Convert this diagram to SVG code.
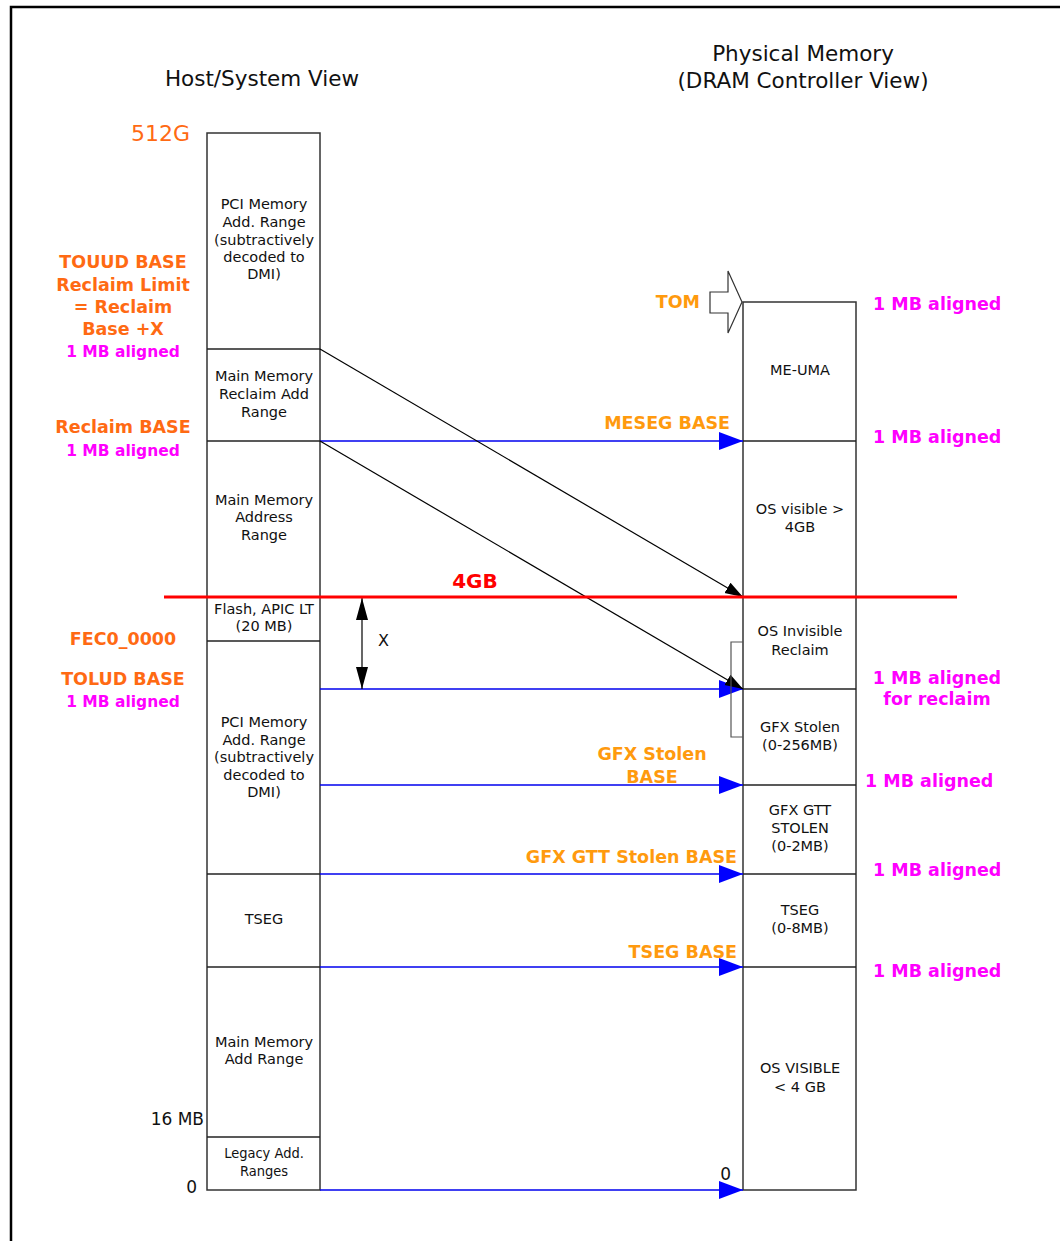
<svg xmlns="http://www.w3.org/2000/svg" width="1060" height="1241" viewBox="0 0 1060 1241">
<style>
.bx{fill:#fff;stroke:#333;stroke-width:1.5}
.dv{stroke:#222;stroke-width:1.5}
.t{font-family:"DejaVu Sans",Verdana,sans-serif;font-size:14.5px;fill:#111;text-anchor:middle}
.h{font-family:"DejaVu Sans",Verdana,sans-serif;font-size:21.5px;fill:#111;text-anchor:middle}
.ol{font-family:"DejaVu Sans",Verdana,sans-serif;font-size:17.5px;font-weight:bold;fill:#FF6A13;text-anchor:middle}
.or{font-family:"DejaVu Sans",Verdana,sans-serif;font-size:17.5px;font-weight:bold;fill:#FF9A0E}
.mg{font-family:"DejaVu Sans",Verdana,sans-serif;font-size:17.5px;font-weight:bold;fill:#FF00FF}
.ml{font-family:"DejaVu Sans",Verdana,sans-serif;font-size:15.5px;font-weight:bold;fill:#FF00FF;text-anchor:middle}
.bl{stroke:#0000EE;stroke-width:1.3;fill:none}
.dg{stroke:#000;stroke-width:1.2;fill:none}
.n{font-family:"DejaVu Sans",sans-serif;font-size:17px;fill:#111}
</style>
<defs>
<marker id="ba" markerUnits="userSpaceOnUse" markerWidth="26" markerHeight="20" refX="24" refY="9" orient="auto"><path d="M0,0 L24,9 L0,18 Z" fill="#0000FF"/></marker>
<marker id="ka" markerUnits="userSpaceOnUse" markerWidth="20" markerHeight="14" refX="18" refY="6" orient="auto"><path d="M0,0 L18,6 L0,12 Z" fill="#000"/></marker>
<marker id="xa" markerUnits="userSpaceOnUse" markerWidth="24" markerHeight="14" refX="22" refY="6" orient="auto"><path d="M0,0 L22,6 L0,12 Z" fill="#000"/></marker>
</defs>
<rect width="1060" height="1241" fill="#fff"/>
<path d="M11,1241 V7 H1060" fill="none" stroke="#000" stroke-width="2.5"/>

<text class="h" x="262" y="86">Host/System View</text>
<text class="h" x="803" y="61">Physical Memory</text>
<text class="h" x="803" y="88">(DRAM Controller View)</text>

<g id="host">
<rect class="bx" x="207" y="133" width="113" height="1057"/>
<line class="dv" x1="207" y1="349" x2="320" y2="349"/>
<line class="dv" x1="207" y1="441" x2="320" y2="441"/>
<line class="dv" x1="207" y1="641" x2="320" y2="641"/>
<line class="dv" x1="207" y1="874" x2="320" y2="874"/>
<line class="dv" x1="207" y1="967" x2="320" y2="967"/>
<line class="dv" x1="207" y1="1137" x2="320" y2="1137"/>
</g>
<g id="host-pci-high"><text class="t" x="264" y="209">PCI Memory</text><text class="t" x="264" y="227">Add. Range</text><text class="t" x="264" y="245">(subtractively</text><text class="t" x="264" y="262">decoded to</text><text class="t" x="264" y="279">DMI)</text></g>
<g id="host-reclaim"><text class="t" x="264" y="381">Main Memory</text><text class="t" x="264" y="399">Reclaim Add</text><text class="t" x="264" y="417">Range</text></g>
<g id="host-main"><text class="t" x="264" y="505">Main Memory</text><text class="t" x="264" y="522">Address</text><text class="t" x="264" y="540">Range</text></g>
<g id="host-flash"><text class="t" x="264" y="614">Flash, APIC LT</text><text class="t" x="264" y="631">(20 MB)</text></g>
<g id="host-pci-low"><text class="t" x="264" y="727">PCI Memory</text><text class="t" x="264" y="745">Add. Range</text><text class="t" x="264" y="762">(subtractively</text><text class="t" x="264" y="780">decoded to</text><text class="t" x="264" y="797">DMI)</text></g>
<g id="host-tseg"><text class="t" x="264" y="924">TSEG</text></g>
<g id="host-mainlow"><text class="t" x="264" y="1047">Main Memory</text><text class="t" x="264" y="1064">Add Range</text></g>
<g id="host-legacy"><text class="t" x="264" y="1158" style="font-family:'DejaVu Sans Condensed','DejaVu Sans',sans-serif">Legacy Add.</text><text class="t" x="264" y="1176" style="font-family:'DejaVu Sans Condensed','DejaVu Sans',sans-serif">Ranges</text></g>

<g id="phys">
<rect class="bx" x="743" y="302" width="113" height="888"/>
<line class="dv" x1="743" y1="441" x2="856" y2="441"/>
<line class="dv" x1="743" y1="689" x2="856" y2="689"/>
<line class="dv" x1="743" y1="785" x2="856" y2="785"/>
<line class="dv" x1="743" y1="874" x2="856" y2="874"/>
<line class="dv" x1="743" y1="967" x2="856" y2="967"/>
</g>
<g id="phys-meuma"><text class="t" x="800" y="375">ME-UMA</text></g>
<g id="phys-osvis"><text class="t" x="800" y="514">OS visible &gt;</text><text class="t" x="800" y="532">4GB</text></g>
<g id="phys-osinv"><text class="t" x="800" y="636">OS Invisible</text><text class="t" x="800" y="655">Reclaim</text></g>
<g id="phys-gfx"><text class="t" x="800" y="732">GFX Stolen</text><text class="t" x="800" y="750">(0-256MB)</text></g>
<g id="phys-gtt"><text class="t" x="800" y="815">GFX GTT</text><text class="t" x="800" y="833">STOLEN</text><text class="t" x="800" y="851">(0-2MB)</text></g>
<g id="phys-tseg"><text class="t" x="800" y="915">TSEG</text><text class="t" x="800" y="933">(0-8MB)</text></g>
<g id="phys-oslow"><text class="t" x="800" y="1073">OS VISIBLE</text><text class="t" x="800" y="1092">&lt; 4 GB</text></g>

<g id="connectors">
<line class="bl" x1="320" y1="441" x2="743" y2="441" marker-end="url(#ba)"/>
<line class="bl" x1="320" y1="689" x2="743" y2="689" marker-end="url(#ba)"/>
<line class="bl" x1="320" y1="785" x2="743" y2="785" marker-end="url(#ba)"/>
<line class="bl" x1="320" y1="874" x2="743" y2="874" marker-end="url(#ba)"/>
<line class="bl" x1="320" y1="967" x2="743" y2="967" marker-end="url(#ba)"/>
<line class="bl" x1="320" y1="1190" x2="743" y2="1190" marker-end="url(#ba)"/>
<line class="dg" x1="320" y1="349" x2="743" y2="597" marker-end="url(#ka)"/>
<line class="dg" x1="320" y1="441" x2="743" y2="689" marker-end="url(#ka)"/>
<line class="dg" x1="362" y1="643" x2="362" y2="598" marker-end="url(#xa)"/>
<line class="dg" x1="362" y1="643" x2="362" y2="689" marker-end="url(#xa)"/>
<path d="M743,642 H731 V737 H743" fill="none" stroke="#555" stroke-width="1.2"/>
<path d="M710,292 H728 V271 L742,302 L728,333 V313 H710 Z" fill="#fff" stroke="#333" stroke-width="1.2"/>
</g>

<line x1="164" y1="597" x2="957" y2="597" stroke="#FF0000" stroke-width="3"/>
<text x="475" y="588" font-family="'DejaVu Sans',Verdana,sans-serif" font-size="20" font-weight="bold" fill="#FF0000" text-anchor="middle">4GB</text>
<text x="378" y="646" font-family="'DejaVu Sans',Verdana,sans-serif" font-size="16" fill="#111">X</text>

<text x="190" y="141" font-family="'DejaVu Sans',Verdana,sans-serif" font-size="22" fill="#FF6A13" text-anchor="end">512G</text>
<text class="ol" x="123" y="268">TOUUD BASE</text>
<text class="ol" x="123" y="291">Reclaim Limit</text>
<text class="ol" x="123" y="313">= Reclaim</text>
<text class="ol" x="123" y="335">Base +X</text>
<text class="ml" x="123" y="357">1 MB aligned</text>
<text class="ol" x="123" y="433">Reclaim BASE</text>
<text class="ml" x="123" y="456">1 MB aligned</text>
<text class="ol" x="123" y="645">FEC0_0000</text>
<text class="ol" x="123" y="685">TOLUD BASE</text>
<text class="ml" x="123" y="707">1 MB aligned</text>
<text class="n" x="204" y="1125" text-anchor="end">16 MB</text>
<text class="n" x="197" y="1193" text-anchor="end">0</text>
<text class="n" x="731" y="1180" text-anchor="end">0</text>

<text class="or" x="700" y="308" text-anchor="end">TOM</text>
<text class="or" x="730" y="429" text-anchor="end">MESEG BASE</text>
<text class="or" x="652" y="760" text-anchor="middle">GFX Stolen</text>
<text class="or" x="652" y="783" text-anchor="middle">BASE</text>
<text class="or" x="737" y="863" text-anchor="end">GFX GTT Stolen BASE</text>
<text class="or" x="737" y="958" text-anchor="end">TSEG BASE</text>

<text class="mg" x="873" y="310">1 MB aligned</text>
<text class="mg" x="873" y="443">1 MB aligned</text>
<text class="mg" x="937" y="684" text-anchor="middle">1 MB aligned</text>
<text class="mg" x="937" y="705" text-anchor="middle">for reclaim</text>
<text class="mg" x="865" y="787">1 MB aligned</text>
<text class="mg" x="873" y="876">1 MB aligned</text>
<text class="mg" x="873" y="977">1 MB aligned</text>
</svg>
